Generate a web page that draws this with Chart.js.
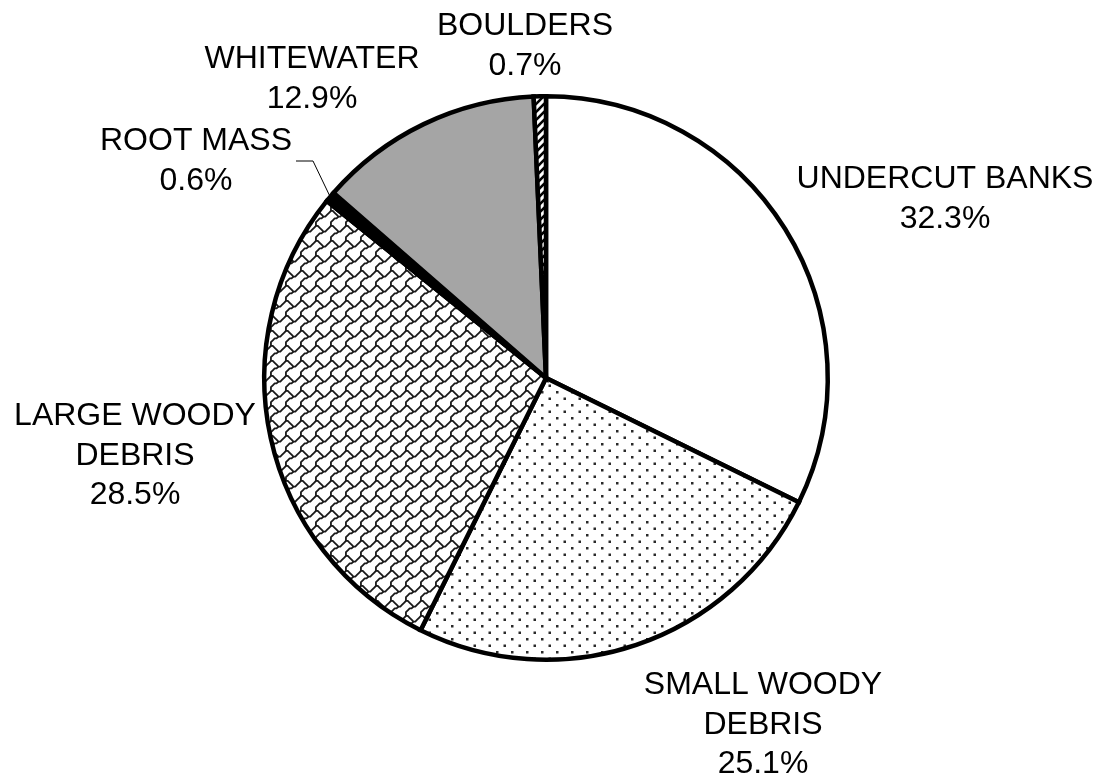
<!DOCTYPE html>
<html>
<head>
<meta charset="utf-8">
<title>Cover types</title>
<script src="https://cdn.jsdelivr.net/npm/chart.js@4.4.0/dist/chart.umd.min.js"></script>
<style>
  html, body { margin: 0; padding: 0; background: #fff; }
  #wrap { width: 1100px; height: 774px; }
</style>
</head>
<body>
<div id="wrap"><canvas id="cover-chart" width="1100" height="774"></canvas></div>
<script>
const categories = ["UNDERCUT BANKS", "SMALL WOODY DEBRIS", "LARGE WOODY DEBRIS", "ROOT MASS", "WHITEWATER", "BOULDERS"];
const shares = [32.3, 25.1, 28.5, 0.6, 12.9, 0.7];

// label text lines per slice (the name may wrap), with the value appended
const labelLines = [
  ["UNDERCUT BANKS"],
  ["SMALL WOODY", "DEBRIS"],
  ["LARGE WOODY", "DEBRIS"],
  ["ROOT MASS"],
  ["WHITEWATER"],
  ["BOULDERS"],
];

// where each label block sits: centre x and first baseline
const labelLayout = [
  { x: 945, y: 188 },
  { x: 763, y: 694 },
  { x: 135, y: 425 },
  { x: 196, y: 150 },
  { x: 312, y: 68 },
  { x: 525, y: 35 },
];
const lineGap = 39.5;

function makeTile(w, h, draw) {
  const c = document.createElement("canvas");
  c.width = w;
  c.height = h;
  const g = c.getContext("2d");
  g.fillStyle = "#fff";
  g.fillRect(0, 0, w, h);
  draw(g, w, h);
  return g.createPattern(c, "repeat");
}

// sparse staggered dots
const dotFill = makeTile(15, 13, (g) => {
  g.fillStyle = "#2a2a2a";
  g.fillRect(1, 1, 2.5, 2.5);
  g.fillRect(8.5, 7.5, 2.5, 2.5);
});

// shingle hatch, traced from the 8x8 bitmap and scaled up
const shingleFill = makeTile(15, 15, (g, w) => {
  const s = w / 8;
  const pts = [
    [[0, 0], [1, 0], [2, 1], [3, 2], [4, 3], [5, 3], [6, 2], [7, 1], [8, 0]],
    [[4, 3], [3, 4], [2, 4], [1, 5], [0, 6], [0, 7], [0, 8]],
  ];
  g.strokeStyle = "#1a1a1a";
  g.lineWidth = 1.8;
  g.lineJoin = "round";
  for (const dx of [-w, 0, w]) {
    for (const dy of [-w, 0, w]) {
      pts.forEach((line) => {
        g.beginPath();
        line.forEach(([px, py], i) => {
          const x = (px + 0.5) * s + dx;
          const y = (py + 0.5) * s + dy;
          if (i === 0) g.moveTo(x, y); else g.lineTo(x, y);
        });
        g.stroke();
      });
    }
  }
});

// wide upward diagonal stripes
const stripeFill = makeTile(8, 8, (g, w) => {
  g.strokeStyle = "#000";
  g.lineWidth = 2.6;
  for (const o of [-w, 0, w]) {
    g.beginPath();
    g.moveTo(o - 1, w + 1);
    g.lineTo(o + w + 1, -1);
    g.stroke();
  }
});

const sliceFills = ["#ffffff", dotFill, shingleFill, "#000000", "#a5a5a5", stripeFill];

const sliceLabels = {
  id: "sliceLabels",
  afterDatasetsDraw(chart) {
    const ctx = chart.ctx;
    const arcs = chart.getDatasetMeta(0).data;

    // leader from the thin root mass slice out to its label
    const rm = arcs[3];
    const mid = (rm.startAngle + rm.endAngle) / 2;
    const ex = rm.x + Math.cos(mid) * rm.outerRadius;
    const ey = rm.y + Math.sin(mid) * rm.outerRadius;
    ctx.save();
    ctx.strokeStyle = "#000";
    ctx.lineWidth = 1;
    ctx.beginPath();
    ctx.moveTo(ex, ey);
    ctx.lineTo(313, 161);
    ctx.lineTo(296, 161);
    ctx.stroke();

    ctx.fillStyle = "#000";
    ctx.font = "32px 'Liberation Sans', Arial, sans-serif";
    ctx.textAlign = "center";
    ctx.textBaseline = "alphabetic";
    shares.forEach((v, i) => {
      const lines = labelLines[i].concat([v.toFixed(1) + "%"]);
      const pos = labelLayout[i];
      lines.forEach((t, k) => ctx.fillText(t, pos.x, pos.y + k * lineGap));
    });
    ctx.restore();
  },
};

new Chart(document.getElementById("cover-chart"), {
  type: "pie",
  data: {
    labels: categories,
    datasets: [{
      data: shares,
      backgroundColor: sliceFills,
      borderColor: "#000",
      borderWidth: 4.5,
      borderJoinStyle: "miter",
    }],
  },
  options: {
    responsive: false,
    animation: false,
    devicePixelRatio: 1,
    layout: { padding: { left: 262, right: 270, top: 94, bottom: 112 } },
    plugins: {
      legend: { display: false },
      tooltip: { enabled: false },
    },
  },
  plugins: [sliceLabels],
});
</script>
</body>
</html>
